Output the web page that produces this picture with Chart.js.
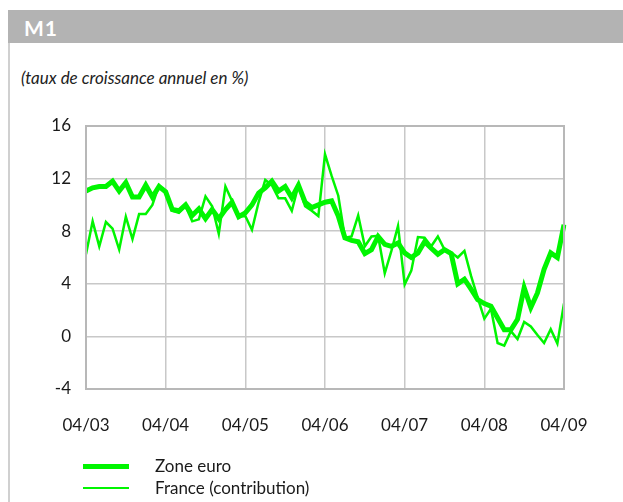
<!DOCTYPE html>
<html>
<head>
<meta charset="utf-8">
<script src="https://cdn.jsdelivr.net/npm/chart.js@4/dist/chart.umd.min.js"></script>
<style>
  body { margin: 0; background: #fff; font-family: Lato, 'Open Sans', sans-serif; }
  #page { position: relative; width: 623px; height: 502px; overflow: hidden; }
  #header { position: absolute; left: 8px; top: 10px; width: 615px; height: 33px; background: #b3b3b3; }
  #header span { position: absolute; left: 16px; top: 5px; color: #fff; font-weight: bold; font-size: 21px; letter-spacing: 1px; }
  #leftBorder { position: absolute; left: 8px; top: 43px; width: 2px; height: 459px; background: #d0d0d0; }
  #subtitle { position: absolute; left: 21px; top: 67px; font-style: italic; font-size: 17px; color: #222; }
  #chart { position: absolute; left: 0; top: 0; }
  .leg { position: absolute; left: 83px; height: 22px; font-size: 17px; color: #1a1a1a; }
  .leg i { position: absolute; left: 0; width: 46px; background: #00f500; }
  .leg span { position: absolute; left: 72px; top: 0; white-space: nowrap; }
</style>
</head>
<body>
<div id="page">
  <div id="header"><span>M1</span></div>
  <div id="leftBorder"></div>
  <div id="subtitle">(taux de croissance annuel en %)</div>
  <canvas id="chart" width="623" height="502"></canvas>
  <div id="legend"></div>
</div>
<script>
// monthly data, April 2003 to April 2009
const tickLabels = ['04/03', '04/04', '04/05', '04/06', '04/07', '04/08', '04/09'];
const yTicks = [-4, 0, 4, 8, 12, 16];

const zoneEuro = [
  11.05, 11.3, 11.4, 11.4, 11.8, 11.05, 11.7, 10.6, 10.6, 11.5, 10.6, 11.4,
  11.0, 9.65, 9.55, 10.0, 9.2, 9.7, 8.95, 9.65, 8.95, 9.65, 10.2, 9.1,
  9.4, 10.0, 10.9, 11.3, 11.8, 11.05, 11.4, 10.55, 11.5, 10.2, 9.8, 10.0,
  10.2, 10.3, 9.15, 7.5, 7.3, 7.2, 6.3, 6.6, 7.6, 7.0, 6.85, 7.1,
  6.35, 6.0, 6.35, 7.2, 6.7, 6.25, 6.6, 6.3, 4.0, 4.35, 3.6, 2.8,
  2.5, 2.3, 1.4, 0.5, 0.5, 1.3, 3.7, 2.2, 3.3, 5.1, 6.35, 6.0,
  8.5
];

const france = [
  6.25, 8.75, 6.85, 8.7, 8.2, 6.6, 9.1, 7.4, 9.3, 9.3, 10.0, 11.5,
  10.9, 9.55, 9.4, 9.9, 8.75, 8.9, 10.65, 9.9, 7.8, 11.4, 10.3, 9.1,
  9.15, 8.1, 10.2, 11.9, 11.5, 10.5, 10.5, 9.55, 11.5, 9.9, 9.55, 9.15,
  13.85, 12.2, 10.7, 7.5, 7.6, 9.2, 6.85, 7.6, 7.65, 4.8, 6.5, 8.4,
  3.95, 5.0, 7.55, 7.5, 6.85, 7.6, 6.6, 6.4, 6.0, 6.5, 4.6, 2.95,
  1.35, 2.1, -0.5, -0.7, 0.4, -0.2, 1.1, 0.75, 0.1, -0.5, 0.55, -0.55,
  2.5
];

const seriesNames = ['Zone euro', 'France (contribution)'];
const green = '#00f500';

// month labels mm/yy
const months = [];
for (let k = 0; k < zoneEuro.length; k++) {
  const m = (3 + k) % 12 + 1;
  const y = 3 + Math.floor((3 + k) / 12);
  months.push(String(m).padStart(2, '0') + '/' + String(y).padStart(2, '0'));
}

const frameBox = {
  id: 'frameBox',
  afterDraw(chart) {
    const a = chart.chartArea;
    const ctx = chart.ctx;
    ctx.save();
    ctx.strokeStyle = '#b8b8b8';
    ctx.lineWidth = 2;
    ctx.strokeRect(a.left, a.top, a.right - a.left, a.bottom - a.top);
    ctx.restore();
  }
};

const tickFont = { family: 'Lato', size: 17 };

new Chart(document.getElementById('chart'), {
  type: 'line',
  data: {
    labels: months,
    datasets: [{
      label: seriesNames[0],
      data: zoneEuro,
      borderColor: green,
      borderWidth: 5,
      pointRadius: 0,
      tension: 0
    }, {
      label: seriesNames[1],
      data: france,
      borderColor: green,
      borderWidth: 2.5,
      pointRadius: 0,
      tension: 0
    }]
  },
  options: {
    responsive: false,
    animation: false,
    layout: { padding: { left: 0, top: 126, right: 59, bottom: 68 } },
    plugins: { legend: { display: false }, tooltip: { enabled: false } },
    scales: {
      x: {
        offset: false,
        grid: { color: '#c8c8c8', lineWidth: 1.5, drawTicks: false },
        border: { display: false },
        afterFit: (s) => { s.height = 45 },
        ticks: {
          autoSkip: false,
          maxRotation: 0,
          padding: 26,
          color: '#1a1a1a',
          font: tickFont,
          callback: function (v, i) {
            const lab = months[i];
            return tickLabels.includes(lab) ? lab : null;
          }
        }
      },
      y: {
        min: -4,
        max: 16,
        afterFit: (s) => { s.width = 86 },
        afterBuildTicks: (s) => { s.ticks = yTicks.map(v => ({ value: v })) },
        grid: { color: '#c8c8c8', lineWidth: 1.5, drawTicks: false },
        border: { display: false },
        ticks: { padding: 15, color: '#1a1a1a', font: tickFont }
      }
    }
  },
  plugins: [frameBox]
});

// legend
const legend = document.getElementById('legend');
[[5, 466], [2.5, 488]].forEach((s, k) => {
  const d = document.createElement('div');
  d.className = 'leg';
  d.style.top = (s[1] - 11) + 'px';
  d.innerHTML = '<i style="top:' + (11 - s[0] / 2) + 'px;height:' + s[0] + 'px"></i><span>' + seriesNames[k] + '</span>';
  legend.appendChild(d);
});
</script>
</body>
</html>
